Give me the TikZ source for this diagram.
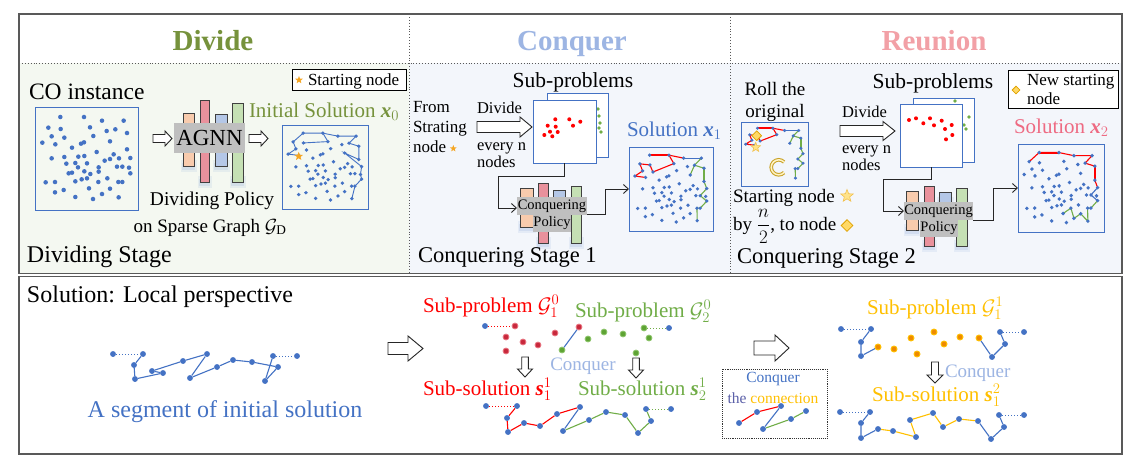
\RequirePackage{fix-cm}
\documentclass[tikz,border=0pt]{standalone}
\usepackage{fontspec}
\setmainfont{Liberation Serif}
\usetikzlibrary{shapes.geometric,arrows.meta,calc}
\definecolor{cblue}{HTML}{4472C4}
\definecolor{cred}{HTML}{FF0000}
\definecolor{cgreen}{HTML}{70AD47}
\definecolor{cdgreen}{HTML}{76923C}
\definecolor{cgold}{HTML}{FFC000}
\definecolor{clblue}{HTML}{9DB5E3}
\definecolor{cpink}{HTML}{F2A0A6}
\definecolor{cpinkt}{HTML}{EE6A82}
\definecolor{fillg}{HTML}{F4F8F1}
\definecolor{fillb}{HTML}{F3F6FB}
\definecolor{barO}{HTML}{F8CBAD}
\definecolor{barP}{HTML}{E9919C}
\definecolor{barB}{HTML}{B4C7E7}
\definecolor{barG}{HTML}{C5E0B4}
\definecolor{gbox}{HTML}{BFBFBF}
\definecolor{framec}{HTML}{595959}
\definecolor{cstar}{HTML}{F5A623}
\definecolor{pstar}{HTML}{FFE38A}
\definecolor{pstarb}{HTML}{F2C14E}
\definecolor{cdia}{HTML}{FFD966}
\definecolor{cdiab}{HTML}{E0A200}
\definecolor{rnode}{HTML}{C8283C}
\definecolor{rnodeb}{HTML}{E8737F}
\definecolor{gnode}{HTML}{5EA333}
\definecolor{gnodeb}{HTML}{8CC46A}
\definecolor{onode}{HTML}{EE8A00}
\definecolor{onodeb}{HTML}{FFC000}
\definecolor{cthe}{HTML}{5A5FA8}
\definecolor{cring}{HTML}{C9A227}
\definecolor{cringin}{HTML}{FFF3C4}
\newcommand{\bx}[1]{\textbf{\textit{#1}}}
\tikzset{
  tx/.style={inner sep=0pt, outer sep=0pt, anchor=base west},
  tc/.style={inner sep=0pt, outer sep=0pt, anchor=base},
  fs/.style={font=\fontsize{#1}{#1}\selectfont},
  harr/.style={draw=black!85, fill=white, line width=0.9, line join=miter},
  barst/.style={draw=black!75, line width=0.9},
  gb/.style={fill=gbox, inner sep=0pt, outer sep=0pt, font=\fontsize{14.5}{14.5}\selectfont},
  rbox/.style={inner sep=0pt, outer sep=0pt},
  bnn/.style={circle, fill=cblue, inner sep=0pt, minimum size=5.9pt},
  rnn/.style={circle, fill=rnode, draw=rnodeb, line width=0.8, inner sep=0pt, minimum size=5.9pt},
  gnn/.style={circle, fill=gnode, draw=gnodeb, line width=0.8, inner sep=0pt, minimum size=5.9pt},
  onn/.style={circle, fill=onode, draw=onodeb, line width=0.9, inner sep=0pt, minimum size=6pt},
  conn/.style={draw=black!85, line width=0.9, -{Straight Barb[length=5pt,width=9pt]}},
  ed/.style={line width=1.1},
  dl/.style={dotted, line width=1},
  ostar/.style={star, star points=5, star point ratio=2.3, fill=cstar, inner sep=0pt, minimum size=#1},
  pstr/.style={star, star points=5, star point ratio=2.3, fill=pstar, draw=pstarb, line width=0.6, inner sep=0pt, minimum size=#1},
  ydia/.style={diamond, fill=cdia, draw=cdiab, line width=0.8, inner sep=0pt, minimum size=#1},
}
\newcommand{\rarr}[6]{\draw[harr] (#1,{#2-#4}) -- ({#3-#6},{#2-#4}) -- ({#3-#6},{#2-#5}) -- (#3,#2) -- ({#3-#6},{#2+#5}) -- ({#3-#6},{#2+#4}) -- (#1,{#2+#4}) -- cycle;}
\newcommand{\darr}[6]{\draw[harr] ({#1-#4},#2) -- ({#1+#4},#2) -- ({#1+#4},{#3-#6}) -- ({#1+#5},{#3-#6}) -- (#1,#3) -- ({#1-#5},{#3-#6}) -- ({#1-#4},{#3-#6}) -- cycle;}
\newcommand{\nnbar}[5]{%
  \fill[cblue!80, opacity=0.10] ({#1-2.5},{#4-6}) rectangle ({#3+2.5},{#4+6});
  \fill[cblue!80, opacity=0.14] ({#1-1},{#4-3}) rectangle ({#3+1},{#4+3.5});
  \draw[barst, fill=#5] (#1,#2) rectangle (#3,#4);}
\newcommand{\instdots}{\foreach \p in {(91,51),(162,51),(216,62),(281,62),(55,83),(92,87),(180,82),(230,93),(256,88),(291,99),(65,109),(103,113),(190,108),(37,128),(76,133),(153,131),(162,127),(240,124),(126,143),(291,148),(200,156),(65,175),(103,171),(145,170),(163,168),(251,163),(240,177),(267,175),(301,174),(109,191),(136,189),(171,190),(224,182),(144,202),(206,202),(261,200),(277,200),(297,203),(116,220),(126,218),(163,214),(181,222),(206,215),(301,220),(47,247),(75,246),(136,244),(155,238),(171,235),(205,246),(232,235),(265,246),(277,246),(75,277),(101,270),(177,265),(240,266),(216,282),(136,291),(189,297),(266,292)}{\fill[cblue] \p circle[radius=6.8];}}
\newcommand{\xonepaths}{%
  \draw[cred, line width=1.1] (91,51)--(162,51)--(180,82)--(103,113)--(92,87)--(55,83)--(65,109)--(37,128)--(76,133);
  \draw[cred, line width=2] (91,51)--(162,51);
  \draw[cred, line width=1.1] (162,51)--(216,62);
  \draw[cblue, line width=1.1] (216,62)--(281,62);
  \draw[cgreen, line width=1.1] (281,62)--(256,88)--(240,124);
  \draw[cgreen, line width=1.1] (256,88)--(291,99)--(291,148)--(301,174)--(277,200)--(301,220)--(277,246)--(265,246)--(266,292);
  \draw[cgreen, line width=2] (291,99)--(291,148);}
\begin{document}
\begin{tikzpicture}[x=1pt,y=-1pt]
\useasboundingbox (0,0) rectangle (1147,469);
\fill[white] (0,0) rectangle (1147,469);
% ---------- panels ----------
\fill[fillg] (19,63) rectangle (409,273.5);
\fill[fillb] (409,63) rectangle (1122,273.5);
\draw[dotted, black!65, line width=0.9] (19,63) -- (1122,63);
\draw[dotted, black!65, line width=0.9] (409,14) -- (409,273.5);
\draw[dotted, black!65, line width=0.9] (730,14) -- (730,273.5);
\draw[framec, line width=1.4] (19,14) rectangle (1122,273.5);
\draw[framec, line width=1.4] (19,276.5) rectangle (1122,454);
% headers
\node[tc, fs=29, text=cdgreen] (hd) at (213,50) {\bfseries Divide};
\node[tc, fs=29, text=clblue] (hc) at (572,50) {\bfseries Conquer};
\node[tc, fs=29, text=cpink] (hr) at (934,50) {\bfseries Reunion};
% ---------- Divide panel ----------
\node[tx, fs=23.5] (coi) at (29,99) {CO instance};
\node[rbox, draw=black, fill=white, line width=0.8, minimum width=114pt, minimum height=21pt] (leg1) at (349,79.5) {};
\node[ostar=8pt] (leg1s) at (299,80) {};
\node[tx, fs=17] (leg1t) at (308,85) {Starting node};
\node[rbox, draw=cblue, line width=1, minimum width=103pt, minimum height=103pt] (sb0) at (86.5,158.5) {};
\begin{scope}[shift={(30,100)}, scale=1/3]
\instdots
\end{scope}
\rarr{153}{138.5}{172}{4}{7.5}{7}
\nnbar{183}{113}{194}{166}{barO}
\nnbar{200}{100}{209}{182}{barP}
\nnbar{215}{114}{227}{166}{barB}
\nnbar{232}{103}{243}{182}{barG}
\node[gb, minimum width=71pt, minimum height=30pt, font=\fontsize{23}{23}\selectfont] (agnn) at (209.5,138) {AGNN};
\rarr{249}{138.5}{268}{4}{7.5}{7}
\node[tx, fs=21, text=cdgreen] (isol) at (249,117) {Initial Solution \bx{x}$_0$};
\node[rbox, draw=cblue, line width=1, minimum width=86pt, minimum height=84pt] (sb00) at (325,167) {};
\begin{scope}[shift={(277.83,119.29)}, xscale=0.2783, yscale=0.2718]
\draw[cblue, line width=0.9] (76,133)--(37,128)--(65,109)--(55,83)--(91,51)--(162,51)--(216,62)--(281,62)--(256,88)--(291,99)--(291,148)--(240,124)--(301,174)--(297,203)--(301,220)--(277,246)--(266,292);
\draw[cblue, line width=0.9] (92,87)--(180,82)--(162,51);
\instdots
\end{scope}
\node[ostar=9pt] (st0) at (298.7,156.3) {};
\node[tc, fs=19.5] (dp1) at (212,205) {Dividing Policy};
\node[tc, fs=19] (dp2) at (210,232) {on Sparse Graph $\mathcal{G}_{\mathrm{D}}$};
\node[tx, fs=24] (dst) at (27,262) {Dividing Stage};
% ---------- Conquer panel ----------
\node[tc, fs=21.5] (sp1) at (573,87) {Sub-problems};
\node[tx, fs=17] (fr1) at (413,112) {From};
\node[tx, fs=17] (fr2) at (413,132) {Strating};
\node[tx, fs=17] (fr3) at (413,152) {node};
\node[ostar=7pt] (frs) at (453.3,148.5) {};
\node[tx, fs=16.5] (dv1) at (477,113) {Divide};
\node[tx, fs=16.5] (dv2) at (477,150) {every n};
\node[tx, fs=16.5] (dv3) at (477,167) {nodes};
\rarr{477}{127}{532}{5.5}{10}{12}
\node[rbox, draw=cblue, fill=white, line width=1, minimum width=61pt, minimum height=64pt] (k1) at (577.5,125) {};
\foreach \p in {(598,109),(599,116),(600,123),(599,128),(601,132)} {\fill[cgreen] \p circle[radius=1.9];}
\node[rbox, draw=cblue, fill=white, line width=1, minimum width=63pt, minimum height=63pt] (f1) at (564.5,131.5) {};
\foreach \p in {(555.3,119.3),(569.3,119.3),(580.3,121.7),(547.7,125.7),(555.7,126.7),(573,125.7),(550,131.7),(557.7,132),(544.3,135),(552.3,136.3)} {\fill[cred] \p circle[radius=2];}
\nnbar{520}{188}{533}{227}{barO}
\nnbar{538}{183}{548}{243}{barP}
\nnbar{553}{190}{565}{207}{barB}
\nnbar{571}{186}{581}{243}{barG}
\node[gb, minimum width=70pt, minimum height=18pt] (cp1) at (552,206) {Conquering};
\node[gb, minimum width=38pt, minimum height=17pt] (cpb1) at (552,223.5) {Policy};
\draw[conn] (f1.south) -- ++(0,13) -| ($(cp1.west)+(-19,2)$) -- ($(cp1.west)+(0,2)$);
\node[tx, fs=21, text=cblue] (sol1) at (627,136) {Solution \bx{x}$_1$};
\node[rbox, draw=cblue, line width=1, minimum width=84pt, minimum height=84pt] (sb1) at (671,189) {};
\begin{scope}[shift={(624.92,141.29)}, scale=0.2718]
\xonepaths
\instdots
\end{scope}
\draw[conn] ($(cp1.south east)+(0,-1)$) -- ++(18,0) |- (sb1.west);
\node[tx, fs=22.5] (cs1) at (418,262) {Conquering Stage 1};
% ---------- Reunion panel ----------
\node[tc, fs=19] (ro1) at (775,95) {Roll the};
\node[tc, fs=19] (ro2) at (775,117) {original};
\node[rbox, draw=cblue, line width=1, minimum width=67pt, minimum height=64pt] (rb) at (774.5,154) {};
\begin{scope}[shift={(737.75,117.65)}, xscale=0.2168, yscale=0.2071]
\xonepaths
\foreach \p in {(91,51),(162,51),(180,82),(103,113),(92,87),(55,83),(65,109),(37,128),(76,133),(216,62),(281,62),(256,88),(240,124),(291,99),(291,148),(301,174),(277,200),(301,220),(277,246),(265,246),(266,292)} {\fill[cblue] \p circle[radius=8];}
\end{scope}
\node[ydia=10pt] (rdia) at (756.7,135.7) {};
\node[pstr=10pt] (rst) at (755.7,147.3) {};
\draw[cring, line width=3.6] (784,162) arc[start angle=-45, end angle=-315, radius=7.5];
\draw[cringin, line width=1.5] (784,162) arc[start angle=-45, end angle=-315, radius=7.5];
\node[tx, fs=19] (sn1) at (733,202) {Starting node};
\node[pstr=13pt] (sns) at (847,196) {};
\node[tx, fs=19] (sn2) at (733,230) {by $\displaystyle\frac{n}{2}$, to node};
\node[ydia=12pt] (snd) at (847,225.5) {};
\node[tc, fs=21.5] (sp2) at (933,88) {Sub-problems};
\node[tx, fs=16.5] (dw1) at (842,117) {Divide};
\node[tx, fs=16.5] (dw2) at (842,153) {every n};
\node[tx, fs=16.5] (dw3) at (842,170) {nodes};
\rarr{840}{131}{895}{5.5}{9.5}{12}
\node[rbox, draw=cblue, fill=white, line width=1, minimum width=61pt, minimum height=64pt] (k2) at (943.5,130) {};
\foreach \p in {(955,101),(969,117),(964,125),(966,129)} {\fill[cgreen] \p circle[radius=1.9];}
\node[rbox, draw=cblue, fill=white, line width=1, minimum width=62pt, minimum height=63pt] (f2) at (931,135.5) {};
\foreach \p in {(909,120),(916,118.3),(923.3,123.3),(930,118.3),(934,125.3),(941.7,120.7),(945,129),(951.7,125),(946,139.3),(952.3,135)} {\fill[cred] \p circle[radius=2];}
\nnbar{906}{191}{918}{230}{barO}
\nnbar{924}{186}{934}{246}{barP}
\nnbar{939}{192}{951}{203}{barB}
\nnbar{956}{188}{967}{246}{barG}
\node[gb, minimum width=69pt, minimum height=18pt] (cp2) at (938.5,211) {Conquering};
\node[gb, minimum width=36pt, minimum height=17pt] (cpb2) at (939,228.5) {Policy};
\draw[conn] (f2.south) -- ++(0,12.5) -| ($(cp2.west)+(-21,0)$) -- (cp2.west);
\node[rbox, draw=black, fill=white, line width=0.8, minimum width=110pt, minimum height=38pt] (leg2) at (1063,89) {};
\node[ydia=8pt] (leg2d) at (1016,90) {};
\node[tx, fs=17] (leg2a) at (1027,85) {New starting};
\node[tx, fs=17] (leg2b) at (1027,104) {node};
\node[tx, fs=21, text=cpinkt] (sol2) at (1014,133) {Solution \bx{x}$_2$};
\node[rbox, draw=cblue, line width=1, minimum width=86pt, minimum height=88pt] (sb2) at (1061,188) {};
\begin{scope}[shift={(1013.83,138.02)}, xscale=0.2783, yscale=0.2848]
\draw[cred, line width=1.1] (55,83)--(91,51)--(162,51)--(216,62)--(281,62)--(256,88)--(291,99)--(291,148)--(301,174);
\draw[cred, line width=2] (91,51)--(162,51);
\draw[cred, line width=2] (291,99)--(291,148);
\draw[cblue, line width=1.1] (301,174)--(277,200)--(301,220);
\draw[cgreen, line width=1.1] (301,220)--(277,246)--(265,246)--(266,292)--(240,266)--(216,282)--(205,246)--(177,265);
\instdots
\end{scope}
\draw[conn] (cp2.south east) -- ++(20,0) |- (sb2.west);
\node[tx, fs=22.5] (cs2) at (737,263) {Conquering Stage 2};
% ---------- bottom panel ----------
\node[tx, fs=24] (loc) at (27,302) {Solution: Local perspective};
\foreach \n/\x/\y in {s1/113/354, s2/143/354, s3/134/365, s4/135/379, s5/152/371, s6/163/373, s7/183/361, s8/207/354, s9/190/378, s10/217/367, s11/233/360, s12/252/362, s13/278/367, s14/273/356, s15/265/381, s16/297/356}
  \node[bnn] (\n) at (\x,\y) {};
\draw[ed, cblue] (s2)--(s3)--(s4)--(s6)--(s5)--(s7)--(s8)--(s9)--(s10)--(s11)--(s12)--(s13)--(s15)--(s14);
\draw[dl, cblue] (s1)--(s2);
\draw[dl, cblue] (s14)--(s16);
\node[tc, fs=24, text=cblue] (seg) at (225,417) {A segment of initial solution};
\rarr{388}{348.5}{423}{6}{12.5}{15}
% sub-problems row 0
\node[tx, fs=21, text=cred] (spa) at (423,312) {Sub-problem $\mathcal{G}_1^0$};
\node[tx, fs=21, text=cgreen] (spb) at (575,317) {Sub-problem $\mathcal{G}_2^0$};
\node[bnn] (a1) at (485,326) {};
\foreach \n/\x/\y in {a2/515/326, a3/506/337, a4/523/342, a5/538/345, a6/506/351, a7/555/333, a8/579/327}
  \node[rnn] (\n) at (\x,\y) {};
\foreach \n/\x/\y in {g1/562/350, g2/588/339, g3/604/332, g4/623/334, g5/649/338, g6/636/353, g7/644/328}
  \node[gnn] (\n) at (\x,\y) {};
\node[bnn] (g8) at (669,328) {};
\draw[dl, cred] (a1)--(a2);
\draw[ed, cblue] (a8)--(g1);
\draw[dl, cgreen] (g7)--(g8);
\darr{525}{357}{377}{3.3}{7.5}{8}
\darr{636}{358}{378}{3.3}{7.5}{8}
\node[tc, fs=19, text=clblue] (cq1) at (583,370) {Conquer};
\node[tx, fs=21, text=cred] (ssa) at (423,395) {Sub-solution \bx{s}$_1^1$};
\node[tx, fs=21, text=cgreen] (ssb) at (578,395) {Sub-solution \bx{s}$_2^1$};
\foreach \n/\x/\y in {b1/486/406, b2/517/406, b3/507/418, b4/508/432, b5/524/423, b6/540/426, b7/557/414, b8/580/407, h1/563/431, h2/589/420, h3/606/412, h4/625/415, h5/638/433, h6/651/421, h7/646/409, h8/671/409}
  \node[bnn] (\n) at (\x,\y) {};
\draw[dl, cred] (b1)--(b2);
\draw[ed, cred] (b2)--(b3)--(b4)--(b5)--(b6)--(b7)--(b8);
\draw[ed, cblue] (b8)--(h1);
\draw[ed, cgreen] (h1)--(h2)--(h3)--(h4)--(h5)--(h6)--(h7);
\draw[dl, cgreen] (h7)--(h8);
% connection box
\rarr{754}{348}{789}{7}{13}{14}
\node[rbox, draw=black!80, densely dotted, line width=0.9, minimum width=105pt, minimum height=69pt] (cbox) at (774.5,403.5) {};
\node[tc, fs=15.5, text=cblue] (cc1) at (773,382) {Conquer};
\node[tc, fs=15.5] (cc2) at (773,403) {\textcolor{cthe}{the} \textcolor{cgold}{connection}};
\foreach \n/\x/\y in {m1/739/423, m2/757/412, m3/781/406, m4/763/429, m5/791/419, m6/806/411}
  \node[bnn] (\n) at (\x,\y) {};
\draw[ed, cred] (m1)--(m2)--(m3);
\draw[ed, cblue] (m3)--(m4);
\draw[ed, cgreen] (m4)--(m5)--(m6);
% reunion row
\node[tx, fs=21, text=cgold] (spc) at (867,314) {Sub-problem $\mathcal{G}_1^1$};
\foreach \n/\x/\y in {c1/841/329, c2/871/329, c3/861/342, c4/861/356, c5/992/357, c6/1005/344, c7/1000/332, c8/1024/332}
  \node[bnn] (\n) at (\x,\y) {};
\foreach \n/\x/\y in {o1/878/347, o2/894/349, o3/911/338, o4/917/354, o5/934/332, o6/944/344, o7/960/337, o8/979/338}
  \node[onn] (\n) at (\x,\y) {};
\draw[dl, cblue] (c1)--(c2);
\draw[ed, cblue] (c2)--(c3)--(c4)--(o1);
\draw[ed, cblue] (o8)--(c5)--(c6)--(c7);
\draw[dl, cblue] (c7)--(c8);
\darr{935}{362}{383}{3.5}{8}{8}
\node[tx, fs=19, text=clblue] (cq2) at (945,377) {Conquer};
\node[tx, fs=21, text=cgold] (ssc) at (872,401) {Sub-solution \bx{s}$_1^2$};
\foreach \n/\x/\y in {d1/840/412, d2/870/412, d3/861/423, d4/861/438, d5/878/429, d6/893/431, d7/916/437, d8/910/420, d9/933/413, d10/943/427, d11/959/419, d12/978/421, d13/991/439, d14/1004/427, d15/999/415, d16/1024/415}
  \node[bnn] (\n) at (\x,\y) {};
\draw[dl, cblue] (d1)--(d2);
\draw[ed, cblue] (d2)--(d3)--(d4)--(d5);
\draw[ed, cgold] (d5)--(d6)--(d7)--(d8)--(d9)--(d10)--(d11)--(d12);
\draw[ed, cblue] (d12)--(d13)--(d14)--(d15);
\draw[dl, cblue] (d15)--(d16);
\end{tikzpicture}
\end{document}
